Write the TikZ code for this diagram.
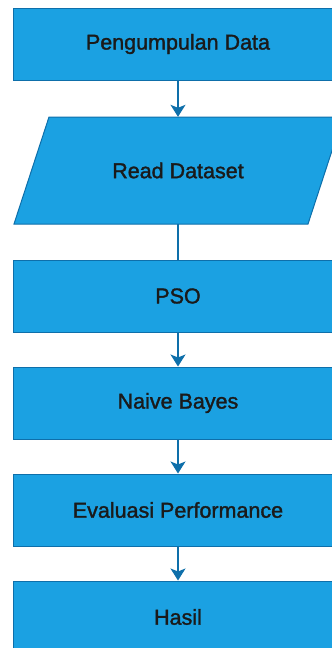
\documentclass[tikz,border=0pt]{standalone}
\usepackage{fontspec}
\setmainfont{Liberation Sans}
\newfontfamily\medfont{Liberation Sans}[BoldFont={Liberation Sans}, BoldFeatures={FakeBold=1.5}]
\usetikzlibrary{arrows.meta}
\definecolor{boxfill}{HTML}{1BA1E2}
\definecolor{boxline}{HTML}{0E6FAA}
\definecolor{txt}{HTML}{1A1A1A}
\begin{document}
\begin{tikzpicture}[x=1pt,y=-1pt,
  lbl/.style={text=txt, font=\medfont\bfseries\fontsize{21.5}{25}\selectfont},
  stepbox/.style={lbl, draw=boxline, fill=boxfill, line width=1pt, minimum width=330pt, minimum height=72pt, inner sep=0pt},
  labelbox/.style={lbl, minimum width=294pt, minimum height=107pt, inner sep=0pt},
  flow/.style={draw=boxline, line width=1.2pt, -{Stealth[length=12pt,width=15pt,inset=3pt]}},
  link/.style={draw=boxline, line width=1.2pt}]
\useasboundingbox (0,0) rectangle (332,648);
\clip (0,0) rectangle (332,648);
\node[stepbox] (pd) at (178,44) {Pengumpulan Data};
\draw[draw=boxline, fill=boxfill, line width=1pt] (49,117) -- (343,117) -- (308,224) -- (14,224) -- cycle;
\node[labelbox] (rd) at (178,170.5) {Read Dataset};
\node[stepbox] (pso) at (178,296) {PSO};
\node[stepbox] (nb) at (178,403) {Naive Bayes};
\node[stepbox] (ev) at (178,510) {Evaluasi Performance};
\node[stepbox] (ha) at (178,617) {Hasil};
\draw[flow] (pd.south) -- (rd.north);
\draw[link] (rd.south) -- (pso.north);
\draw[flow] (pso.south) -- (nb.north);
\draw[flow] (nb.south) -- (ev.north);
\draw[flow] (ev.south) -- (ha.north);
\end{tikzpicture}
\end{document}
